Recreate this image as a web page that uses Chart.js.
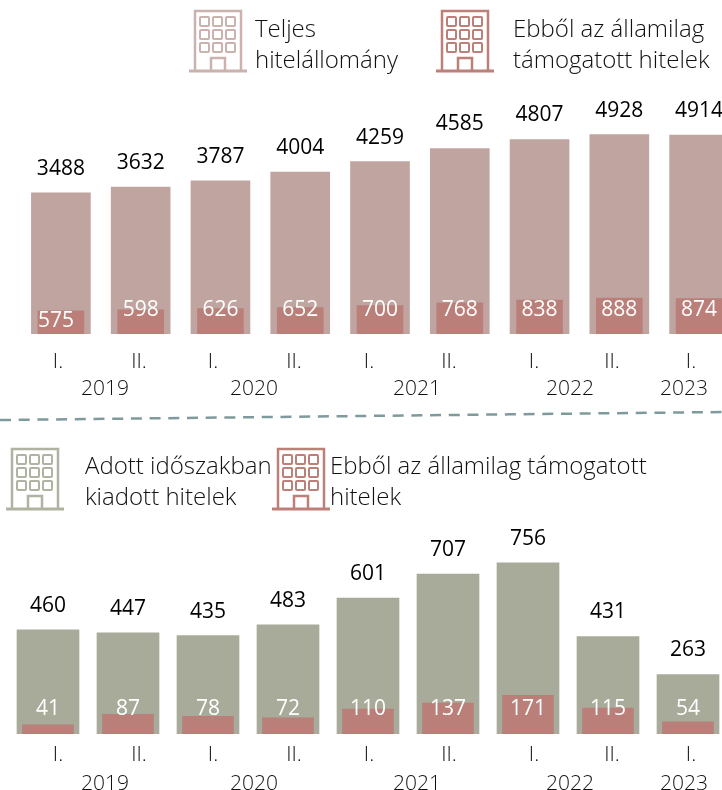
<!DOCTYPE html>
<html lang="hu">
<head>
<meta charset="utf-8">
<script src="https://cdn.jsdelivr.net/npm/chart.js@4"></script>
<style>
    html, body { margin: 0; padding: 0; background: #fff; }
    #page { position: relative; width: 722px; height: 790px; overflow: hidden; font-family: 'Open Sans', sans-serif; }
    canvas { position: absolute; }
    .legend { position: absolute; font-size: 24px; font-weight: 300; line-height: 31px; color: #111; white-space: nowrap; }
    .icon, #divider { position: absolute; }
</style>
</head>
<body>
<div id="page">
    <canvas id="topChart" style="left:21px;top:90px"></canvas>
    <canvas id="bottomChart" style="left:8px;top:510px"></canvas>
    <svg id="divider" width="722" height="790" style="left:0;top:0">
        <line x1="0" y1="420" x2="722" y2="412" stroke="#7f9a9c" stroke-width="2.5" stroke-dasharray="11 7.7"/>
    </svg>
</div>
<script>
const halfYears = ['I.', 'II.', 'I.', 'II.', 'I.', 'II.', 'I.', 'II.', 'I.'];
const years = ['2019', '2020', '2021', '2022', '2023'];

const totalStock = [3488, 3632, 3787, 4004, 4259, 4585, 4807, 4928, 4914];
const supportedStock = [575, 598, 626, 652, 700, 768, 838, 888, 874];
const issued = [460, 447, 435, 483, 601, 707, 756, 431, 263];
const supportedIssued = [41, 87, 78, 72, 110, 137, 171, 115, 54];

const legendStock = [['Teljes', 'hitelállomány'], ['Ebből az államilag', 'támogatott hitelek']];
const legendIssued = [['Adott időszakban', 'kiadott hitelek'], ['Ebből az államilag támogatott', 'hitelek']];

const OUTER_TOP = '#c0a4a0';
const OUTER_BOTTOM = '#a8ab9a';
const INNER = '#b97f78';
const FONT = "'Open Sans', sans-serif";

// the tick labels and years of the reference do not sit under the bars, so they are nudged
const tickPixels = [58, 139, 213, 294, 369, 449, 534, 612, 691];
const yearPixels = [105, 254, 417, 570, 684];

const barLabels = {
    id: 'barLabels',
    afterDatasetsDraw(chart, args, opts) {
        const { ctx } = chart;
        ctx.save();
        ctx.textAlign = 'center';
        ctx.textBaseline = 'middle';
        ctx.font = `400 21px ${FONT}`;

        chart.getDatasetMeta(1).data.forEach((bar, i) => {
            ctx.fillStyle = '#000';
            ctx.fillText(chart.data.datasets[1].data[i], bar.x, bar.y - 24);
        });
        ctx.font = `500 21px ${FONT}`;
        chart.getDatasetMeta(0).data.forEach((bar, i) => {
            const shifted = opts.firstLabel && i === 0;
            ctx.fillStyle = '#fff';
            ctx.fillText(chart.data.datasets[0].data[i],
                bar.x + (shifted ? opts.firstLabel.dx : 0),
                shifted ? opts.firstLabel.y : opts.insideY);
        });

        // axis texts, positions are page pixels
        const left = chart.canvas.offsetLeft;
        ctx.font = `300 21px ${FONT}`;
        ctx.fillStyle = '#111';
        halfYears.forEach((t, i) => ctx.fillText(t, tickPixels[i] - left, opts.tickY));
        years.forEach((t, i) => ctx.fillText(t, yearPixels[i] - left, opts.yearY));
        ctx.restore();
    }
};

function makeChart(id, width, height, paddingBottom, yMax, inner, outer, outerColor, barW, innerW, labelOpts) {
    const canvas = document.getElementById(id);
    canvas.width = width;
    canvas.height = height;
    return new Chart(canvas.getContext('2d'), {
        type: 'bar',
        data: {
            labels: halfYears,
            datasets: [
                { data: inner, backgroundColor: INNER, barThickness: innerW, grouped: false, order: 1 },
                { data: outer, backgroundColor: outerColor, barThickness: barW, grouped: false, order: 2 },
            ]
        },
        options: {
            responsive: false,
            animation: false,
            layout: { padding: { bottom: paddingBottom } },
            plugins: {
                legend: { display: false },
                tooltip: { enabled: false },
                barLabels: labelOpts
            },
            scales: {
                x: { display: false },
                y: { display: false, min: 0, max: yMax }
            }
        },
        plugins: [barLabels]
    });
}

function addIcon(x, y, color) {
    let cells = '';
    for (let r = 0; r < 3; r++) {
        for (let c = 0; c < 3; c++) {
            cells += `<rect x="${11 + c * 13}" y="${8 + r * 13}" width="9" height="9" rx="1"/>`;
        }
    }
    const page = document.getElementById('page');
    page.insertAdjacentHTML('beforeend', `
        <svg class="icon" style="left:${x}px;top:${y}px" width="58" height="64" fill="none" stroke="${color}" stroke-width="2">
            ${cells}
            <path d="M6 62V2H52V62" stroke-width="2.5"/>
            <path d="M0 62H58" stroke-width="3"/>
            <path d="M22 62V49H36V62" stroke-width="2.5"/>
        </svg>`);
}

function addLegend(x, y, lines) {
    document.getElementById('page').insertAdjacentHTML('beforeend',
        `<div class="legend" style="left:${x}px;top:${y}px">${lines.join('<br>')}</div>`);
}

addIcon(189, 9, '#cbb2ae');
addIcon(436, 9, '#bd8078');
addIcon(6, 447, '#b0b3a2');
addIcon(272, 447, '#bd8078');
addLegend(255, 12, legendStock[0]);
addLegend(513, 12, legendStock[1]);
addLegend(85, 449, legendIssued[0]);
addLegend(330, 449, legendIssued[1]);

makeChart('topChart', 718, 320, 76, 6030, supportedStock, totalStock, OUTER_TOP, 59, 46,
    { insideY: 220, firstLabel: { dx: -5, y: 231 }, tickY: 272, yearY: 299 });
makeChart('bottomChart', 720, 280, 56, 990, supportedIssued, issued, OUTER_BOTTOM, 62, 51,
    { insideY: 199, tickY: 245, yearY: 274 });
</script>
</body>
</html>
